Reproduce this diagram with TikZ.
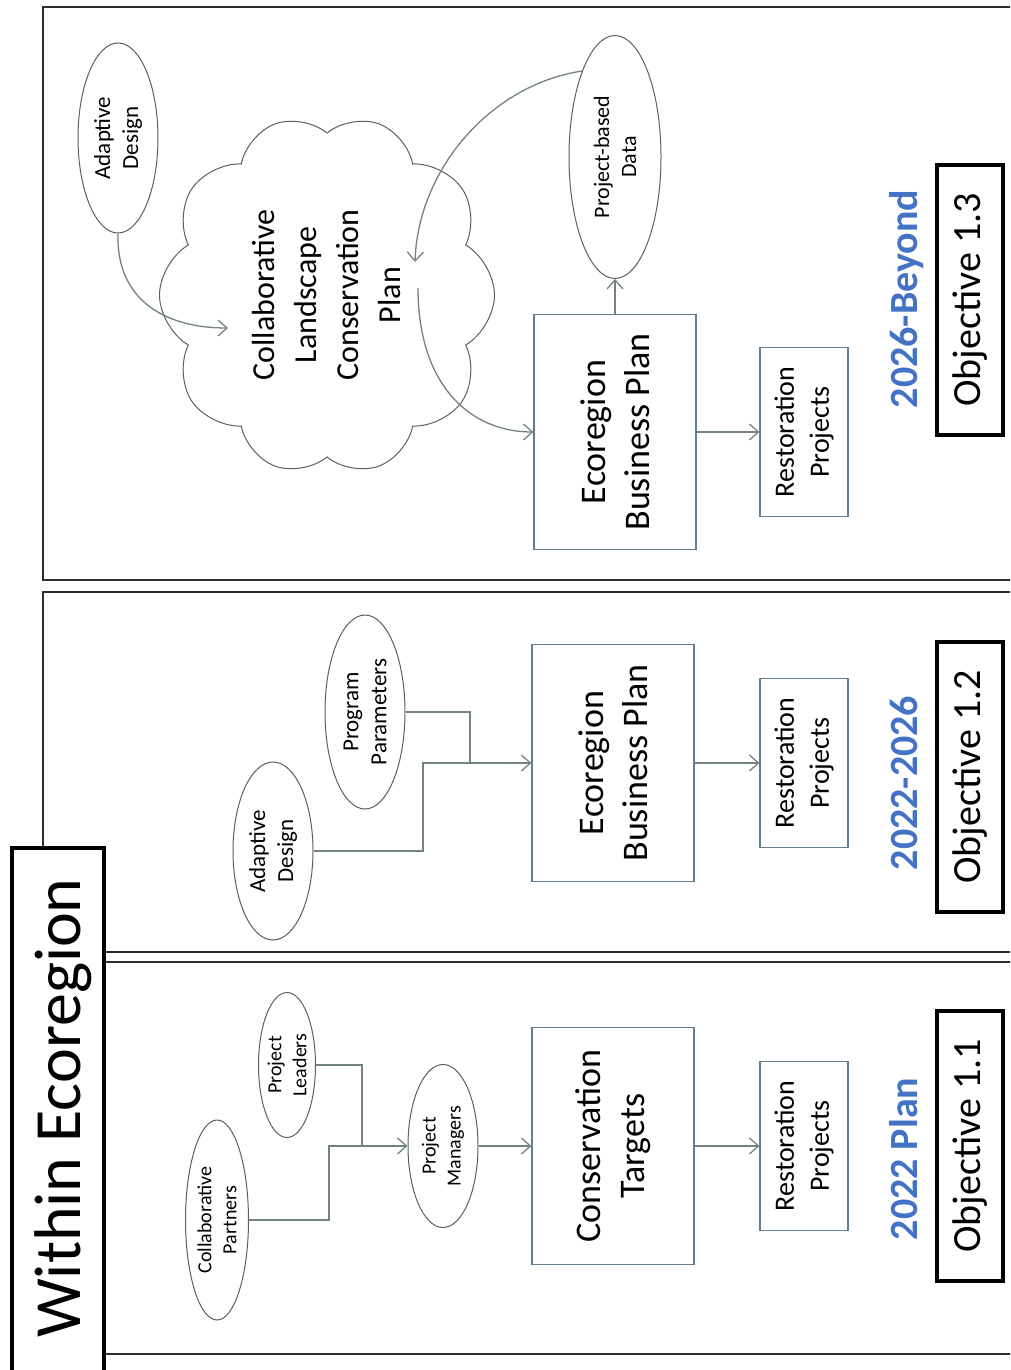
\documentclass[tikz,border=0pt]{standalone}
\usepackage{fontspec}
\setmainfont{Carlito}
\usepackage{tikz}
\usetikzlibrary{shapes.geometric,shapes.symbols,arrows.meta}
\definecolor{panel line}{RGB}{45,45,45}
\definecolor{link gray}{RGB}{115,130,130}
\definecolor{box edge}{RGB}{100,125,140}
\definecolor{oval edge}{RGB}{95,95,95}
\definecolor{year blue}{RGB}{68,114,196}

\tikzset{
	oval/.style={ellipse, draw=oval edge, line width=1pt, inner sep=0pt, rotate=90, align=center},
	smalltext/.style={font=\fontsize{20}{25}\selectfont},
	midtext/.style={font=\fontsize{23}{28}\selectfont},
	planbox/.style={draw=box edge, line width=1.2pt, rotate=90, align=center, inner sep=0pt,
		minimum width=237pt, minimum height=162pt, font=\fontsize{36}{44}\selectfont},
	restbox/.style={draw=box edge, line width=1.2pt, rotate=90, align=center, inner sep=0pt,
		minimum width=169pt, minimum height=88pt, font=\fontsize{28}{35}\selectfont},
	yearlabel/.style={rotate=90, anchor=base, text=year blue, font=\fontsize{40}{48}\selectfont\bfseries},
	objbox/.style={draw=black, line width=4.5pt, rotate=90, inner sep=0pt,
		minimum width=270pt, minimum height=66pt, font=\fontsize{40}{48}\selectfont},
	flow/.style={draw=link gray, line width=1.3pt, -{Straight Barb[length=9pt,width=16pt]}},
	flowline/.style={draw=link gray, line width=1.3pt},
	frame/.style={draw=panel line, line width=2pt}
}

\begin{document}
\begin{tikzpicture}[x=1pt, y=-1pt]
	\useasboundingbox (0,0) rectangle (1010,1370);
	\clip (0,0) rectangle (1010,1370);
	\fill[white] (0,0) rectangle (1010,1370);

	% panel frames
	\draw[frame] (1015,7) -- (43,7) -- (43,580) -- (1015,580);
	\draw[frame] (1015,592) -- (43,592) -- (43,848);
	\draw[frame] (104,952) -- (1015,952);
	\draw[frame] (104,962) -- (1015,962);
	\draw[frame] (104,1354) -- (1015,1354);
	\draw[black, line width=4.5pt] (12,1400) rectangle (104,848);
	\node[rotate=90, anchor=base, font=\fontsize{66}{72}\selectfont] (within) at (80,1108) {Within Ecoregion};

	% 2022 plan
	\node[oval, smalltext, minimum width=200pt, minimum height=63pt] (cp) at (217,1220) {Collaborative\\Partners};
	\node[oval, smalltext, minimum width=145pt, minimum height=57pt] (pl) at (287,1065) {Project\\Leaders};
	\node[oval, smalltext, minimum width=163pt, minimum height=70pt] (pm) at (443,1146) {Project\\Managers};
	\node[planbox] (ct) at (613,1146) {Conservation\\Targets};
	\node[restbox] (rp1) at (804,1146) {Restoration\\Projects};
	\node[yearlabel] (yr1) at (917,1159) {2022 Plan};
	\node[objbox] (obj1) at (970,1146) {Objective 1.1};
	\coordinate (cpjoin) at (329,1146);
	\coordinate (pljoin) at (362,1146);
	\draw[flow] (cp.south) -| (cpjoin) -- (pm.north);
	\draw[flowline] (pl.south) -| (pljoin);
	\draw[flow] (pm.south) -- (ct.north);
	\draw[flow] (ct.south) -- (rp1.north);

	% 2022-2026
	\node[oval, midtext, minimum width=178pt, minimum height=80pt] (ad2) at (273,851) {Adaptive\\Design};
	\node[oval, midtext, minimum width=194pt, minimum height=80pt] (pp) at (365,712) {Program\\Parameters};
	\node[planbox] (ebp2) at (613,763) {Ecoregion\\Business Plan};
	\node[restbox] (rp2) at (804,763) {Restoration\\Projects};
	\node[yearlabel] (yr2) at (917,783) {2022-2026};
	\node[objbox] (obj2) at (970,777) {Objective 1.2};
	\coordinate (adjoin) at (423,763);
	\coordinate (ppjoin) at (470,763);
	\draw[flow] (ad2.south) -| (adjoin) -- (ebp2.north);
	\draw[flowline] (pp.south) -| (ppjoin);
	\draw[flow] (ebp2.south) -- (rp2.north);

	% 2026-beyond
	\node[oval, midtext, minimum width=190pt, minimum height=80pt] (ad3) at (118,138) {Adaptive\\Design};
	\node[cloud, draw=oval edge, line width=1pt, cloud puffs=10, cloud puff arc=120, rotate=90,
		minimum width=360pt, minimum height=335pt, inner sep=0pt, align=center,
		font=\fontsize{32}{42}\selectfont] (clcp) at (327,295)
		{Collaborative\\Landscape\\Conservation\\Plan};
	\node[oval, font=\fontsize{22}{27}\selectfont, minimum width=243pt, minimum height=92pt] (pbd) at (615,157) {Project-based\\Data};
	\node[planbox, minimum width=235pt] (ebp3) at (615,432) {Ecoregion\\Business Plan};
	\node[restbox] (rp3) at (804,432) {Restoration\\Projects};
	\node[yearlabel] (yr3) at (917,299) {2026-Beyond};
	\node[objbox] (obj3) at (970,300) {Objective 1.3};
	\coordinate (cloudin) at (228,328);
	\coordinate (cloudtop) at (415,262);
	\coordinate (cloudout) at (418,288);
	\draw[flow] (ad3.west) .. controls (116,300) and (165,328) .. (cloudin);
	\draw[flow] (pbd.21) .. controls (490,85) and (418,170) .. (cloudtop);
	\draw[flow] (cloudout) .. controls (418,385) and (470,432) .. (ebp3.north);
	\draw[flow] (ebp3.east) -- (pbd.west);
	\draw[flow] (ebp3.south) -- (rp3.north);
\end{tikzpicture}
\end{document}
